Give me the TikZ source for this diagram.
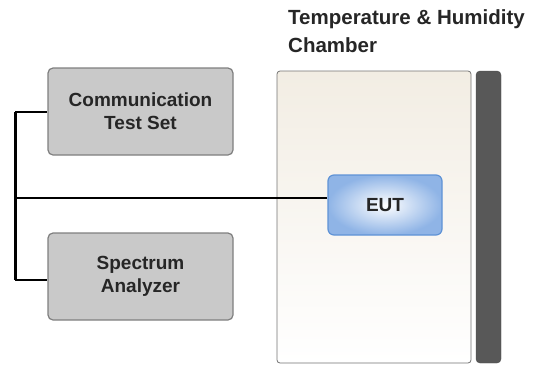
\documentclass[tikz,border=0pt]{standalone}
\usepackage{fontspec}
\setmainfont{Liberation Sans}
\usetikzlibrary{positioning}

\definecolor{instgray}{HTML}{C9C9C9}
\definecolor{instedge}{HTML}{7F7F7F}
\definecolor{chambertop}{HTML}{F2EDE3}
\definecolor{eutblue}{HTML}{8FB4E6}
\definecolor{eutedge}{HTML}{5F93D6}
\definecolor{railgray}{HTML}{585858}

\tikzset{
  instrument/.style={draw=instedge, line width=1.2pt, fill=instgray, rounded corners=5pt,
    minimum width=185pt, minimum height=87pt, inner sep=0pt, align=center,
    text=black!85, font=\bfseries\fontsize{19}{23}\selectfont},
  cable/.style={line width=2pt, black},
}

\begin{document}
\begin{tikzpicture}[x=1pt,y=-1pt]
  \useasboundingbox (0,0) rectangle (536,365);

  % chamber and its wall
  \node[draw=black!55, line width=0.8pt, rounded corners=3pt, top color=chambertop, bottom color=white,
        minimum width=194pt, minimum height=292pt, inner sep=0pt] (chamber) at (374,217) {};
  \node[fill=railgray, draw=black!70, rounded corners=4pt,
        minimum width=25pt, minimum height=292pt, inner sep=0pt] (rail) at (488.5,217) {};
  \node[anchor=north west, align=left, inner sep=0pt, text=black!85,
        font=\bfseries\fontsize{20.5}{28}\selectfont] (title) at (288,9) {Temperature \& Humidity\\Chamber};

  % equipment
  \node[instrument] (comm) at (140.5,111.5) {Communication\\Test Set};
  \node[instrument] (spec) at (140.5,276.5) {Spectrum\\Analyzer};
  \node[draw=eutedge, line width=1.2pt, rounded corners=6pt, inner color=white, outer color=eutblue,
        minimum width=114pt, minimum height=60pt, inner sep=0pt, text=black!85,
        font=\bfseries\fontsize{19}{22}\selectfont] (eut) at (385,205) {EUT};

  % cabling
  \coordinate (bustop) at (15,112);
  \coordinate (busmid) at (15,198);
  \coordinate (busbot) at (15,280);
  \draw[cable, line width=3pt] (bustop) -- (busbot);
  \draw[cable] (bustop) -- (bustop -| comm.west);
  \draw[cable] (busbot) -- (busbot -| spec.west);
  \draw[cable] (busmid) -- (busmid -| eut.west);
\end{tikzpicture}
\end{document}
